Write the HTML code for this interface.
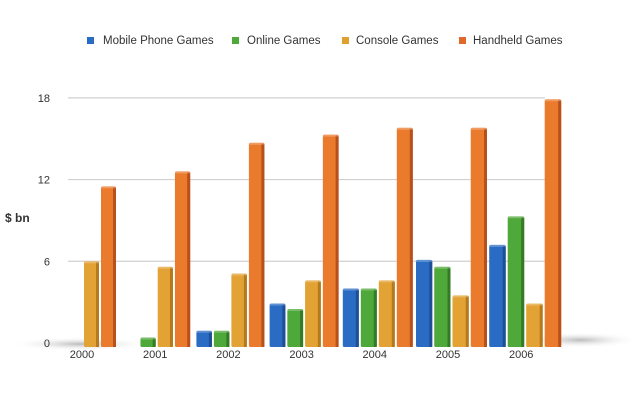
<!DOCTYPE html>
<html><head><meta charset="utf-8"><style>
body{margin:0;background:#fff;}
svg{display:block;font-family:"Liberation Sans",sans-serif;}
</style></head><body>
<svg id="chart" width="640" height="400" viewBox="0 0 640 400">
<defs>
<radialGradient id="shadow" cx="0.5" cy="0.5" r="0.5"><stop offset="0" stop-color="#bbb"/><stop offset="1" stop-color="#fff" stop-opacity="0"/></radialGradient>
</defs>
<g id="legend">
<g><rect x="87" y="37" width="7" height="7" fill="#2a6cc4"/><text x="103" y="44" font-size="11.5" fill="#333">Mobile Phone Games</text></g>
<g><rect x="232" y="37" width="7" height="7" fill="#4ea83a"/><text x="247" y="44" font-size="11.5" fill="#333">Online Games</text></g>
<g><rect x="342" y="37" width="7" height="7" fill="#e0a030"/><text x="356" y="44" font-size="11.5" fill="#333">Console Games</text></g>
<g><rect x="459" y="37" width="7" height="7" fill="#e0682a"/><text x="473" y="44" font-size="11.5" fill="#333">Handheld Games</text></g>
</g>
<ellipse cx="80" cy="344" rx="70" ry="7" fill="url(#shadow)"/>
<ellipse cx="580" cy="340" rx="60" ry="8" fill="url(#shadow)"/>
<text x="5" y="222" font-size="12" font-weight="bold" fill="#333">$ bn</text>
<g id="grid"></g><g id="bars"></g><g id="xlabels"></g>
</svg>
<script>
const years=["2000","2001","2002","2003","2004","2005","2006"];
const mobile=[0,0,0.9,2.9,4.0,6.1,7.2];
const online=[0,0.4,0.9,2.5,4.0,5.6,9.3];
const consoleG=[6.0,5.6,5.1,4.6,4.6,3.5,2.9];
const handheld=[11.5,12.6,14.7,15.3,15.8,15.8,17.9];
const yTicks=[0,6,12,18];
const NS="http://www.w3.org/2000/svg";
const y0=343,pxPerUnit=13.62;
function y(v){return y0-v*pxPerUnit;}
function xGroup(i){return 50+i*73.2;}
function mk(tag,attrs,parent){const e=document.createElementNS(NS,tag);for(const k in attrs)e.setAttribute(k,attrs[k]);parent.appendChild(e);return e;}
const grid=document.getElementById('grid');
yTicks.forEach(t=>{
  if(t>0){const l=mk('line',{x1:68,x2:545,y1:y(t),y2:y(t),stroke:'#d0d0d0','stroke-width':1.2},grid);
  
  }
  const tx=mk('text',{x:50,y:y(t)+4,'font-size':11,'text-anchor':'end',fill:'#333'},grid);
  tx.textContent=t;
  
  
});
const series=[[mobile,'#2a6cc4','#1d4f96','mobile'],[online,'#4ea83a','#357a25','online'],[consoleG,'#e3a234','#b57a1c','console'],[handheld,'#ea7a2c','#b8501c','handheld']];
const bars=document.getElementById('bars');
years.forEach((yr,i)=>{
  series.forEach((s,j)=>{
    const v=s[0][i]; if(v<=0) return;
    const w=15+i*0.25, x=xGroup(i)+j*(w+2), top=y(v), bottom=347;
    const g=mk('g',{},bars);
    
    
    mk('rect',{x:x,y:top,width:w,height:bottom-top,fill:s[1],rx:1.5},g);
    mk('rect',{x:x+w-3,y:top+1,width:3,height:bottom-top-1,fill:s[2]},g);
    mk('rect',{x:x,y:top,width:w,height:2,fill:'#fff','fill-opacity':0.25},g);
  });
  const t=mk('text',{x:xGroup(i)+32,y:358,'font-size':11,'text-anchor':'middle',fill:'#333'},document.getElementById('xlabels'));
  t.textContent=yr;
  
  
});
</script>
</body></html>
